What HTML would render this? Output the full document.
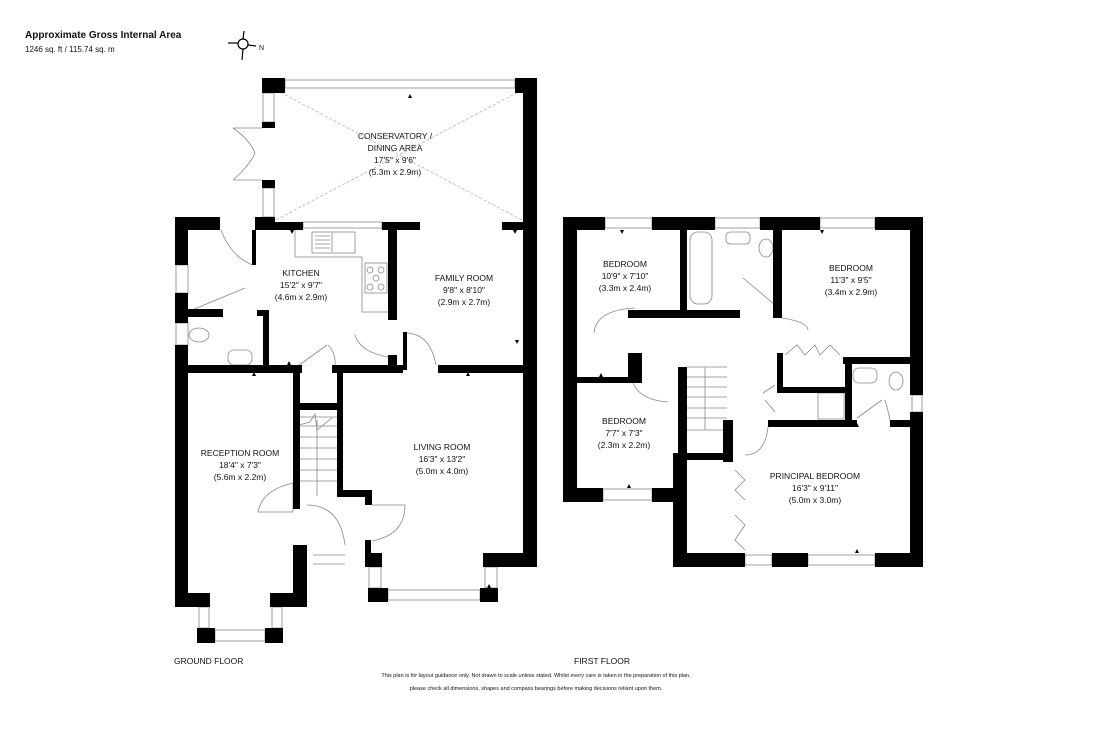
<!DOCTYPE html>
<html><head><meta charset="utf-8"><style>
body{margin:0;background:#fff;width:1109px;height:745px;overflow:hidden}
svg{display:block}
text{font-family:"Liberation Sans",sans-serif;fill:#111}
</style></head><body>
<svg width="1109" height="745" viewBox="0 0 1109 745" xmlns="http://www.w3.org/2000/svg">
<text x="25" y="38" font-size="10" font-weight="bold">Approximate Gross Internal Area</text>
<text x="25" y="52" font-size="8">1246 sq. ft / 115.74 sq. m</text>
<g stroke="#000" stroke-width="1.2" fill="none">
<circle cx="243" cy="44" r="5"/><line x1="228" y1="43" x2="238" y2="43"/><line x1="248" y1="45" x2="256" y2="46"/><line x1="244" y1="31" x2="243" y2="39"/><line x1="243" y1="49" x2="242" y2="60"/>
</g>
<text x="259" y="50" font-size="7">N</text>

<g fill="none" stroke="#888" stroke-width="0.8">
<rect x="285" y="80" width="230" height="8"/>
<rect x="263" y="93" width="11" height="29"/>
<rect x="263" y="188" width="11" height="29"/>
<rect x="303" y="222" width="79" height="6"/>
<rect x="176" y="265" width="12" height="28"/>
<rect x="176" y="323" width="12" height="22"/>
<rect x="199" y="607" width="10" height="21"/>
<rect x="272" y="607" width="10" height="21"/>
<rect x="215" y="630" width="50" height="11"/>
<rect x="369" y="567" width="12" height="21"/>
<rect x="485" y="567" width="12" height="21"/>
<rect x="388" y="590" width="92" height="10"/>
<rect x="605" y="218" width="47" height="10"/>
<rect x="715" y="218" width="45" height="10"/>
<rect x="820" y="218" width="55" height="10"/>
<rect x="603" y="489" width="49" height="11"/>
<rect x="745" y="555" width="27" height="10"/>
<rect x="808" y="555" width="67" height="10"/>
<rect x="912" y="395" width="10" height="17"/>
<path d="M295 230 L295 257 L362 257 L362 312 L388 312"/>
<rect x="312" y="232" width="43" height="21"/>
<path d="M315 236 L330 236 M315 240 L330 240 M315 244 L330 244 M315 248 L330 248 M332 233 L332 252"/>
<rect x="365" y="263" width="22" height="30"/>
<circle cx="370" cy="270" r="3"/><circle cx="381" cy="270" r="3"/><circle cx="376" cy="278" r="3"/><circle cx="370" cy="287" r="3"/><circle cx="381" cy="287" r="3"/>
<rect x="690" y="232" width="22" height="72" rx="8"/>
<rect x="726" y="232" width="24" height="12" rx="4"/>
<ellipse cx="766" cy="248" rx="7" ry="9"/>
<ellipse cx="199" cy="335" rx="10" ry="7"/>
<rect x="228" y="350" width="24" height="15" rx="6"/>
<rect x="853" y="368" width="24" height="15" rx="6"/>
<ellipse cx="896" cy="381" rx="7" ry="9"/>
<rect x="818" y="393" width="26" height="26"/>
<path d="M299 417 L337 417 M299 426 L337 426 M299 437 L337 437 M299 448 L337 448 M299 459 L337 459 M299 470 L337 470 M299 481 L337 481 M317 420 L317 496 M299 425 L310 422 L315 414 L317 430 L332 418"/>
<path d="M687 367 L727 367 M687 377 L727 377 M687 387 L727 387 M687 397 L727 397 M687 408 L727 408 M687 418 L727 418 M687 430 L727 430 M705 367 L705 430"/>
<path d="M233 128 Q250 140 255 153 Q250 165 233 180 M233 128 L262 128 M233 180 L262 180"/>
<path d="M221 230 Q230 255 252 265 M192 310 L245 288 M295 368 L327 345 M328 345 Q338 355 334 372"/>
<path d="M355 335 Q360 352 388 357 M405 333 Q430 333 436 365"/>
<path d="M258 512 Q262 490 293 483 L293 512 Z M307 505 Q340 505 345 545 M313 555 L345 555 M313 564 L345 564 M372 505 L405 505 Q405 535 372 541"/>
<path d="M594 333 Q596 310 635 308 M633 383 Q640 400 668 402 M743 278 L775 305 M782 318 Q808 322 808 330 M785 355 L797 345 L805 355 L815 345 L820 355 L830 345 L840 355 M763 393 L775 385 M765 400 L775 412 M857 418 L882 400 M885 400 Q888 410 890 420 M745 455 Q765 455 768 427 M735 470 L745 480 L735 490 L745 500 M735 515 L745 525 L735 540 L745 550"/>
</g>
<g fill="none" stroke="#aaa" stroke-width="0.7" stroke-dasharray="3,2">
<line x1="276" y1="90" x2="522" y2="220"/><line x1="522" y1="90" x2="276" y2="220"/>
</g>

<g fill="#000">
<rect x="262" y="78" width="23" height="15"/>
<rect x="515" y="78" width="22" height="15"/>
<rect x="523" y="78" width="14" height="489"/>
<rect x="262" y="122" width="13" height="6"/>
<rect x="262" y="180" width="13" height="8"/>
<rect x="255" y="217" width="20" height="13"/>
<rect x="255" y="222" width="48" height="8"/>
<rect x="382" y="222" width="38" height="8"/>
<rect x="502" y="222" width="21" height="8"/>
<rect x="388" y="230" width="9" height="90"/>
<rect x="388" y="355" width="9" height="12"/>
<rect x="403" y="332" width="4" height="38"/>
<rect x="175" y="217" width="45" height="13"/>
<rect x="175" y="217" width="13" height="48"/>
<rect x="175" y="293" width="13" height="30"/>
<rect x="175" y="345" width="13" height="262"/>
<rect x="252" y="230" width="4" height="35"/>
<rect x="188" y="309" width="35" height="8"/>
<rect x="257" y="310" width="12" height="6"/>
<rect x="263" y="310" width="6" height="57"/>
<rect x="175" y="365" width="127" height="8"/>
<rect x="332" y="365" width="71" height="8"/>
<rect x="438" y="365" width="85" height="8"/>
<rect x="293" y="373" width="7" height="136"/>
<rect x="299" y="403" width="38" height="7"/>
<rect x="337" y="373" width="6" height="124"/>
<rect x="337" y="490" width="35" height="7"/>
<rect x="365" y="490" width="7" height="15"/>
<rect x="175" y="593" width="35" height="14"/>
<rect x="270" y="593" width="37" height="14"/>
<rect x="293" y="545" width="14" height="62"/>
<rect x="197" y="628" width="18" height="15"/>
<rect x="265" y="628" width="18" height="15"/>
<rect x="365" y="540" width="6" height="27"/>
<rect x="365" y="553" width="17" height="14"/>
<rect x="483" y="553" width="54" height="14"/>
<rect x="368" y="588" width="20" height="14"/>
<rect x="480" y="588" width="18" height="14"/>
<rect x="563" y="217" width="42" height="13"/>
<rect x="652" y="217" width="63" height="13"/>
<rect x="760" y="217" width="60" height="13"/>
<rect x="875" y="217" width="48" height="13"/>
<rect x="563" y="217" width="14" height="285"/>
<rect x="910" y="217" width="13" height="178"/>
<rect x="910" y="412" width="13" height="155"/>
<rect x="563" y="488" width="40" height="14"/>
<rect x="652" y="488" width="35" height="14"/>
<rect x="673" y="453" width="14" height="114"/>
<rect x="673" y="553" width="72" height="14"/>
<rect x="772" y="553" width="36" height="14"/>
<rect x="875" y="553" width="48" height="14"/>
<rect x="678" y="367" width="9" height="90"/>
<rect x="680" y="230" width="7" height="88"/>
<rect x="628" y="310" width="112" height="8"/>
<rect x="773" y="230" width="9" height="88"/>
<rect x="843" y="357" width="67" height="7"/>
<rect x="777" y="353" width="6" height="40"/>
<rect x="777" y="387" width="73" height="6"/>
<rect x="845" y="357" width="7" height="63"/>
<rect x="768" y="420" width="89" height="7"/>
<rect x="890" y="420" width="33" height="7"/>
<rect x="577" y="377" width="60" height="6"/>
<rect x="628" y="353" width="14" height="30"/>
<rect x="687" y="453" width="40" height="7"/>
<rect x="723" y="420" width="10" height="42"/>
<!-- tick arrows -->
<path d="M408 98 l2 -4 l2 4z M408 226 l2 -4 l2 4z M513 230 l2 4 l2 -4z M290 230 l2 4 l2 -4z M515 340 l2 4 l2 -4z M466 376 l2 -4 l2 4z M252 376 l2 -4 l2 4z M287 365 l2 -4 l2 4z M208 630 l2 4 l2 -4z M487 588 l2 -4 l2 4z M620 230 l2 4 l2 -4z M820 230 l2 4 l2 -4z M855 427 l2 -4 l2 4z M855 553 l2 -4 l2 4z M599 377 l2 -4 l2 4z M627 488 l2 -4 l2 4z"/>
</g>

<g font-size="8.5" text-anchor="middle">
<text x="395" y="139">CONSERVATORY /</text><text x="395" y="151">DINING AREA</text><text x="395" y="163">17'5" x 9'6"</text><text x="395" y="175">(5.3m x 2.9m)</text>
<text x="301" y="276">KITCHEN</text><text x="301" y="288">15'2" x 9'7"</text><text x="301" y="300">(4.6m x 2.9m)</text>
<text x="464" y="281">FAMILY ROOM</text><text x="464" y="293">9'8" x 8'10"</text><text x="464" y="305">(2.9m x 2.7m)</text>
<text x="240" y="456">RECEPTION ROOM</text><text x="240" y="468">18'4" x 7'3"</text><text x="240" y="480">(5.6m x 2.2m)</text>
<text x="442" y="450">LIVING ROOM</text><text x="442" y="462">16'3" x 13'2"</text><text x="442" y="474">(5.0m x 4.0m)</text>
<text x="625" y="267">BEDROOM</text><text x="625" y="279">10'9" x 7'10"</text><text x="625" y="291">(3.3m x 2.4m)</text>
<text x="851" y="271">BEDROOM</text><text x="851" y="283">11'3" x 9'5"</text><text x="851" y="295">(3.4m x 2.9m)</text>
<text x="624" y="424">BEDROOM</text><text x="624" y="436">7'7" x 7'3"</text><text x="624" y="448">(2.3m x 2.2m)</text>
<text x="815" y="479">PRINCIPAL BEDROOM</text><text x="815" y="491">16'3" x 9'11"</text><text x="815" y="503">(5.0m x 3.0m)</text>
</g>
<text x="174" y="664" font-size="8.5">GROUND FLOOR</text>
<text x="574" y="664" font-size="8.5">FIRST FLOOR</text>
<g font-size="5.5" text-anchor="middle">
<text x="536" y="677">This plan is for layout guidance only.  Not drawn to scale unless stated. Whilst every care is taken in the preparation of this plan,</text>
<text x="536" y="690">please check all dimensions, shapes and compass bearings before making decisions reliant upon them.</text>
</g>
</svg>
</body></html>
